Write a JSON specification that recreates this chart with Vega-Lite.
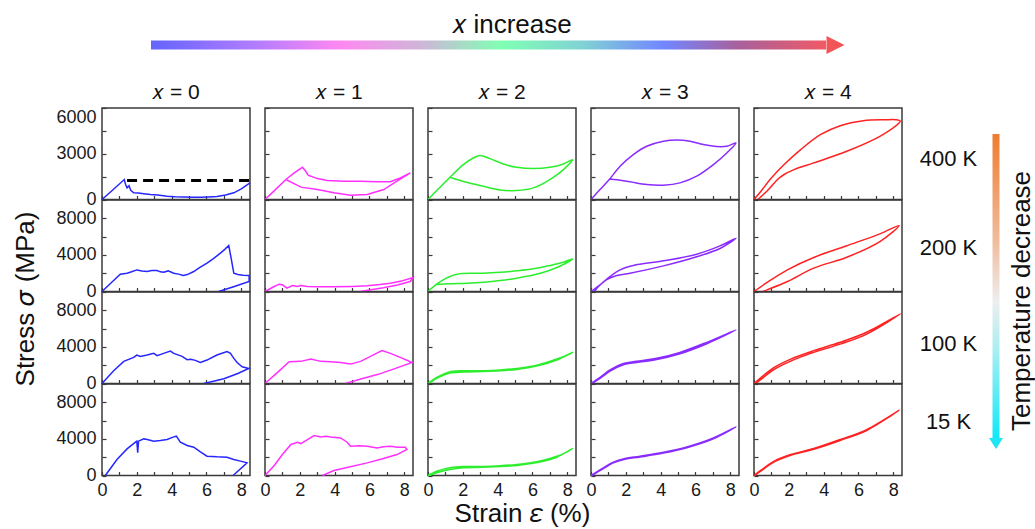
{
"$schema":"https://vega.github.io/schema/vega-lite/v6.json",
"padding":{"left":11,"top":12,"right":0,"bottom":0},
"background":"white",
"config":{
 "font":"Liberation Sans",
 "view":{"stroke":"#3a3a3a","strokeWidth":1.5},
 "axis":{"domain":false,"grid":false,"tickSize":-4,"tickColor":"#3a3a3a","tickWidth":1.2,"labelFont":"Liberation Sans","labelFontSize":18,"labelColor":"#1a1a1a","labelPadding":10,"labelFlush":false,"titleFont":"Liberation Sans","titleFontSize":26,"titleFontWeight":"normal","titleColor":"#111"},
 "title":{"font":"Liberation Sans","fontWeight":"normal","color":"#111"}
},
"datasets":{
"p00":[{"e":0,"p":0},{"e":0.6,"p":610},{"e":1.28,"p":1310},{"e":1.35,"p":1000},{"e":1.44,"p":760},{"e":1.55,"p":900},{"e":1.65,"p":600},{"e":1.82,"p":440},{"e":2.1,"p":420},{"e":2.4,"p":380},{"e":2.78,"p":330},{"e":3.2,"p":290},{"e":3.74,"p":220},{"e":4.2,"p":180},{"e":4.69,"p":160},{"e":5.2,"p":150},{"e":5.65,"p":150},{"e":6.1,"p":170},{"e":6.6,"p":200},{"e":7.1,"p":300},{"e":7.57,"p":440},{"e":8.0,"p":700},{"e":8.5,"p":1090}],
"p01":[{"e":0,"p":0},{"e":0.5,"p":900},{"e":1.05,"p":1890},{"e":1.44,"p":2000},{"e":1.7,"p":2150},{"e":2.0,"p":2360},{"e":2.3,"p":2250},{"e":2.59,"p":2180},{"e":2.85,"p":2300},{"e":3.16,"p":2290},{"e":3.35,"p":2150},{"e":3.54,"p":2110},{"e":3.8,"p":2250},{"e":4.12,"p":2000},{"e":4.4,"p":1900},{"e":4.66,"p":1750},{"e":4.9,"p":1850},{"e":5.27,"p":2180},{"e":5.6,"p":2600},{"e":6.03,"p":3090},{"e":6.4,"p":3600},{"e":6.8,"p":4190},{"e":7.05,"p":4600},{"e":7.28,"p":5020},{"e":7.4,"p":3800},{"e":7.57,"p":2000},{"e":7.8,"p":1850},{"e":8.1,"p":1780},{"e":8.45,"p":1750},{"e":8.45,"p":1100},{"e":7.6,"p":550},{"e":6.7,"p":0}],
"p02":[{"e":0,"p":0},{"e":0.67,"p":1390},{"e":1.25,"p":2420},{"e":1.82,"p":2850},{"e":2.0,"p":3110},{"e":2.2,"p":2960},{"e":2.59,"p":3110},{"e":2.97,"p":3290},{"e":3.16,"p":3040},{"e":3.54,"p":3290},{"e":3.93,"p":3550},{"e":4.12,"p":3290},{"e":4.6,"p":2960},{"e":4.89,"p":2600},{"e":5.1,"p":2650},{"e":5.36,"p":2530},{"e":5.65,"p":2300},{"e":6.03,"p":2560},{"e":6.6,"p":3110},{"e":7.18,"p":3480},{"e":7.38,"p":3290},{"e":7.55,"p":2800},{"e":7.76,"p":2300},{"e":8.05,"p":1830},{"e":8.43,"p":1650},{"e":7.8,"p":1100},{"e":7.0,"p":520},{"e":6.4,"p":250},{"e":5.84,"p":0}],
"p03":[{"e":0.19,"p":0},{"e":0.86,"p":1750},{"e":1.44,"p":2910},{"e":1.92,"p":3640},{"e":2.0,"p":3750},{"e":2.05,"p":2480},{"e":2.1,"p":3750},{"e":2.4,"p":4000},{"e":2.6,"p":3930},{"e":2.97,"p":3750},{"e":3.35,"p":3820},{"e":3.74,"p":3930},{"e":4.12,"p":4220},{"e":4.27,"p":4300},{"e":4.5,"p":3640},{"e":4.89,"p":3280},{"e":5.27,"p":3090},{"e":5.65,"p":2580},{"e":6.03,"p":2110},{"e":6.6,"p":2040},{"e":7.18,"p":2000},{"e":7.57,"p":1750},{"e":7.95,"p":1570},{"e":8.33,"p":1380},{"e":7.53,"p":0}],
"p10":[{"e":0,"p":0},{"e":0.6,"p":650},{"e":1.2,"p":1310},{"e":1.68,"p":1740},{"e":2.15,"p":2110},{"e":2.34,"p":1850},{"e":2.48,"p":1590},{"e":2.63,"p":1530},{"e":3.0,"p":1370},{"e":3.58,"p":1240},{"e":4.53,"p":1200},{"e":5.49,"p":1200},{"e":6.44,"p":1160},{"e":7.2,"p":1160},{"e":7.77,"p":1420},{"e":8.34,"p":1740},{"e":7.58,"p":1200},{"e":6.82,"p":650},{"e":5.87,"p":330},{"e":4.91,"p":280},{"e":3.96,"p":440},{"e":3.01,"p":650},{"e":2.06,"p":810},{"e":1.2,"p":1310}],
"p11":[{"e":0,"p":0},{"e":0.53,"p":546},{"e":0.82,"p":800},{"e":1.0,"p":730},{"e":1.26,"p":364},{"e":1.58,"p":655},{"e":1.87,"p":546},{"e":2.06,"p":655},{"e":2.44,"p":546},{"e":3.0,"p":530},{"e":3.96,"p":510},{"e":5.0,"p":560},{"e":5.87,"p":620},{"e":6.6,"p":760},{"e":7.2,"p":910},{"e":7.9,"p":1180},{"e":8.5,"p":1530},{"e":8.34,"p":1090},{"e":7.6,"p":720},{"e":6.8,"p":420},{"e":6.0,"p":170},{"e":5.49,"p":0}],
"p12":[{"e":0,"p":0},{"e":0.72,"p":1210},{"e":1.39,"p":2380},{"e":2.06,"p":2420},{"e":2.63,"p":2670},{"e":3.2,"p":2420},{"e":3.77,"p":2380},{"e":4.34,"p":2300},{"e":4.91,"p":2120},{"e":5.49,"p":2420},{"e":6.06,"p":2960},{"e":6.72,"p":3590},{"e":7.2,"p":3290},{"e":7.77,"p":2850},{"e":8.44,"p":2300},{"e":7.5,"p":1650},{"e":6.5,"p":1000},{"e":5.5,"p":500},{"e":4.63,"p":0}],
"p13":[{"e":0,"p":0},{"e":0.53,"p":1090},{"e":1.0,"p":2290},{"e":1.49,"p":3390},{"e":1.87,"p":3640},{"e":2.06,"p":3490},{"e":2.44,"p":3930},{"e":2.82,"p":4370},{"e":3.2,"p":4220},{"e":3.5,"p":4300},{"e":3.77,"p":4220},{"e":4.34,"p":4110},{"e":4.72,"p":3640},{"e":4.91,"p":3200},{"e":5.4,"p":3250},{"e":5.87,"p":3200},{"e":6.44,"p":3020},{"e":6.8,"p":3150},{"e":7.2,"p":3200},{"e":7.6,"p":3100},{"e":8.06,"p":3090},{"e":8.15,"p":2840},{"e":7.58,"p":2290},{"e":6.7,"p":1800},{"e":5.87,"p":1380},{"e":4.9,"p":950},{"e":3.96,"p":546},{"e":3.3,"p":0}],
"p20":[{"e":0,"p":0},{"e":0.6,"p":700},{"e":1.26,"p":1460},{"e":2.03,"p":2290},{"e":2.6,"p":2720},{"e":2.99,"p":2880},{"e":3.56,"p":2680},{"e":4.33,"p":2330},{"e":5.1,"p":2110},{"e":6.05,"p":2030},{"e":7.0,"p":2110},{"e":7.78,"p":2330},{"e":8.31,"p":2620},{"e":7.78,"p":1960},{"e":7.0,"p":1310},{"e":6.05,"p":760},{"e":5.1,"p":590},{"e":4.14,"p":630},{"e":3.18,"p":870},{"e":2.22,"p":1130},{"e":1.26,"p":1460}],
"p21":[{"e":0,"p":0},{"e":0.5,"p":800},{"e":1.0,"p":1400},{"e":1.26,"p":1640},{"e":1.6,"p":1850},{"e":1.93,"p":1970},{"e":3.18,"p":2000},{"e":4.14,"p":2100},{"e":5.1,"p":2260},{"e":6.05,"p":2480},{"e":7.0,"p":2840},{"e":7.78,"p":3200},{"e":8.31,"p":3570},{"e":7.78,"p":2950},{"e":7.0,"p":2330},{"e":6.05,"p":1800},{"e":5.1,"p":1460},{"e":4.14,"p":1200},{"e":3.18,"p":1020},{"e":2.22,"p":910},{"e":1.26,"p":840},{"e":0.5,"p":760}],
"p22":[{"e":0,"p":0},{"e":0.5,"p":660},{"e":0.88,"p":1020},{"e":1.26,"p":1280},{"e":1.6,"p":1370},{"e":2.03,"p":1390},{"e":3.18,"p":1400},{"e":4.14,"p":1480},{"e":5.1,"p":1650},{"e":5.7,"p":1800},{"e":6.25,"p":2010},{"e":6.8,"p":2300},{"e":7.4,"p":2670},{"e":7.9,"p":3030},{"e":8.31,"p":3400},{"e":7.4,"p":2560},{"e":6.25,"p":1900},{"e":5.1,"p":1540},{"e":4.14,"p":1380},{"e":3.18,"p":1300},{"e":2.03,"p":1250},{"e":1.26,"p":1150},{"e":0.88,"p":900},{"e":0.5,"p":560},{"e":0.05,"p":0}],
"p23":[{"e":0,"p":0},{"e":0.5,"p":470},{"e":1.0,"p":740},{"e":1.26,"p":840},{"e":1.6,"p":930},{"e":2.03,"p":980},{"e":3.18,"p":980},{"e":4.14,"p":1060},{"e":5.1,"p":1200},{"e":5.9,"p":1400},{"e":6.63,"p":1670},{"e":7.4,"p":2100},{"e":7.9,"p":2500},{"e":8.31,"p":2950},{"e":7.4,"p":2000},{"e":6.63,"p":1560},{"e":5.1,"p":1100},{"e":3.18,"p":900},{"e":2.03,"p":850},{"e":1.26,"p":660},{"e":0.5,"p":300},{"e":0.1,"p":0}],
"p30":[{"e":0,"p":0},{"e":0.52,"p":650},{"e":1.05,"p":1310},{"e":1.67,"p":2180},{"e":2.43,"p":2940},{"e":3.2,"p":3490},{"e":4.16,"p":3820},{"e":4.92,"p":3900},{"e":5.69,"p":3820},{"e":6.46,"p":3600},{"e":7.22,"p":3470},{"e":7.8,"p":3490},{"e":8.33,"p":3710},{"e":7.8,"p":3050},{"e":7.03,"p":2290},{"e":6.07,"p":1530},{"e":5.11,"p":1090},{"e":4.16,"p":940},{"e":3.2,"p":980},{"e":2.24,"p":1160},{"e":1.5,"p":1300},{"e":1.09,"p":1350}],
"p31":[{"e":0,"p":0},{"e":0.52,"p":730},{"e":1.09,"p":1640},{"e":1.67,"p":2370},{"e":2.43,"p":2840},{"e":4.16,"p":3350},{"e":6.07,"p":4080},{"e":7.41,"p":4990},{"e":8.33,"p":5820},{"e":7.41,"p":4700},{"e":6.07,"p":3800},{"e":4.16,"p":2800},{"e":2.24,"p":2000},{"e":1.48,"p":1750},{"e":0.9,"p":1300},{"e":0.4,"p":500},{"e":0.2,"p":0}],
"p32":[{"e":0,"p":0},{"e":0.52,"p":660},{"e":1.09,"p":1500},{"e":1.86,"p":2200},{"e":2.62,"p":2420},{"e":3.77,"p":2750},{"e":5.11,"p":3400},{"e":6.65,"p":4500},{"e":8.33,"p":5860},{"e":6.65,"p":4350},{"e":5.11,"p":3250},{"e":3.77,"p":2620},{"e":2.62,"p":2300},{"e":1.86,"p":2050},{"e":1.09,"p":1350},{"e":0.52,"p":550},{"e":0.05,"p":0}],
"p33":[{"e":0,"p":0},{"e":0.71,"p":840},{"e":1.28,"p":1460},{"e":1.95,"p":1860},{"e":2.82,"p":2110},{"e":4.16,"p":2550},{"e":5.5,"p":3130},{"e":7.03,"p":4110},{"e":8.33,"p":5310},{"e":7.03,"p":4000},{"e":5.5,"p":3030},{"e":4.16,"p":2450},{"e":2.82,"p":2020},{"e":1.95,"p":1770},{"e":1.28,"p":1380},{"e":0.71,"p":760},{"e":0.05,"p":0}],
"p40":[{"e":0,"p":0},{"e":0.4,"p":545},{"e":0.97,"p":1370},{"e":1.73,"p":2290},{"e":2.68,"p":3270},{"e":3.81,"p":4250},{"e":4.95,"p":4840},{"e":6.28,"p":5170},{"e":7.5,"p":5230},{"e":8.18,"p":5230},{"e":8.4,"p":5150},{"e":8.33,"p":5010},{"e":7.23,"p":4140},{"e":5.33,"p":3160},{"e":3.43,"p":2400},{"e":2.3,"p":1960},{"e":1.73,"p":1640},{"e":1.35,"p":1310},{"e":0.78,"p":590},{"e":0.21,"p":0}],
"p41":[{"e":0,"p":0},{"e":0.78,"p":1020},{"e":1.92,"p":2370},{"e":3.43,"p":3720},{"e":5.33,"p":5000},{"e":7.23,"p":6300},{"e":8.33,"p":7210},{"e":7.23,"p":5460},{"e":5.33,"p":3750},{"e":3.43,"p":2550},{"e":1.92,"p":1090},{"e":0.78,"p":200},{"e":0.5,"p":0}],
"p42":[{"e":0,"p":0},{"e":0.4,"p":660},{"e":1.16,"p":1760},{"e":2.11,"p":2670},{"e":3.43,"p":3590},{"e":4.95,"p":4500},{"e":6.47,"p":5600},{"e":8.41,"p":7610},{"e":6.47,"p":5400},{"e":4.95,"p":4300},{"e":3.43,"p":3400},{"e":2.11,"p":2450},{"e":1.16,"p":1550},{"e":0.4,"p":450},{"e":0.1,"p":0}],
"p43":[{"e":0,"p":0},{"e":0.4,"p":580},{"e":1.16,"p":1570},{"e":2.11,"p":2290},{"e":3.43,"p":2950},{"e":4.95,"p":3930},{"e":6.47,"p":5020},{"e":8.33,"p":7130},{"e":6.47,"p":4920},{"e":4.95,"p":3830},{"e":3.43,"p":2870},{"e":2.11,"p":2200},{"e":1.16,"p":1480},{"e":0.4,"p":500},{"e":0.05,"p":0}]
},
"spacing":3,
"resolve":{"scale":{"x":"independent","y":"independent"}},
"hconcat":[
{"vconcat":[
 {"width":850,"height":18,"view":{"stroke":null},
  "title":{"text":"𝑥 increase","fontSize":26,"baseline":"alphabetic","offset":-23,"dx":-15,"anchor":"middle"},
  "layer":[
   {"data":{"values":[{"a":49,"b":724,"lo":-4.5,"hi":4.5}]},
    "mark":{"type":"rect","fill":{"gradient":"linear","x1":0,"y1":0,"x2":1,"y2":0,"stops":[{"offset":0,"color":"#6464ff"},{"offset":0.15,"color":"#b07cff"},{"offset":0.28,"color":"#ff88f2"},{"offset":0.4,"color":"#cfb6d8"},{"offset":0.52,"color":"#80ffb4"},{"offset":0.64,"color":"#80d2d4"},{"offset":0.76,"color":"#7286ff"},{"offset":0.87,"color":"#a8609c"},{"offset":1,"color":"#f05a66"}]}},
    "encoding":{"x":{"field":"a","type":"quantitative","scale":{"domain":[0,850],"nice":false,"zero":false},"axis":null},"x2":{"field":"b"},"y":{"field":"lo","type":"quantitative","scale":{"domain":[-9,9],"nice":false},"axis":null},"y2":{"field":"hi"}}},
   {"data":{"values":[{"a":733.5,"m":0}]},
    "mark":{"type":"point","shape":"M -1 -1 L 1 0 L -1 1 Z","size":324,"filled":true,"color":"#f25555","opacity":1,"strokeWidth":0},
    "encoding":{"x":{"field":"a","type":"quantitative"},"y":{"field":"m","type":"quantitative"}}}
  ]},
 {"concat":[
   {"width":148,"height":91.5,"title":{"text":"𝑥 = 0","fontSize":21,"baseline":"alphabetic","offset":-13,"anchor":"middle"},
    "encoding":{"x":{"field":"e","type":"quantitative","scale":{"domain":[0,8.5],"nice":false,"zero":false},"axis":{"title":null,"values":[0,1,2,3,4,5,6,7,8],"labels":false}},
      "y":{"field":"p","type":"quantitative","scale":{"domain":[0,6000],"nice":false},"axis":{"title":null,"values":[0,1500,3000,4500,6000],"format":"d","labelExpr":"datum.value % 3000 == 0 ? datum.label : ''","labelBaseline":{"condition":{"test":"datum.value == 6000","value":"top"},"value":"middle"}}},
      "order":{"value":null}},
    "layer":[
     {"data":{"name":"p00"},"mark":{"type":"line","color":"#2626ff","strokeWidth":1.5}},
     {"data":{"values":[{"e":1.44,"p":1240},{"e":8.5,"p":1240}]},"mark":{"type":"line","color":"#000000","strokeWidth":3,"strokeDash":[10,6]}}
    ]},
   {"width":148,"height":91.5,"title":{"text":"𝑥 = 1","fontSize":21,"baseline":"alphabetic","offset":-13,"anchor":"middle"},
    "data":{"name":"p10"},"mark":{"type":"line","color":"#ff30ff","strokeWidth":1.5},
    "encoding":{"x":{"field":"e","type":"quantitative","scale":{"domain":[0,8.5],"nice":false,"zero":false},"axis":{"title":null,"values":[0,1,2,3,4,5,6,7,8],"labels":false}},
      "y":{"field":"p","type":"quantitative","scale":{"domain":[0,6000],"nice":false},"axis":{"title":null,"values":[0,1500,3000,4500,6000],"labels":false}},
      "order":{"value":null}}},
   {"width":148,"height":91.5,"title":{"text":"𝑥 = 2","fontSize":21,"baseline":"alphabetic","offset":-13,"anchor":"middle"},
    "data":{"name":"p20"},"mark":{"type":"line","color":"#2cee2c","strokeWidth":1.5,"interpolate":"catmull-rom"},
    "encoding":{"x":{"field":"e","type":"quantitative","scale":{"domain":[0,8.5],"nice":false,"zero":false},"axis":{"title":null,"values":[0,1,2,3,4,5,6,7,8],"labels":false}},
      "y":{"field":"p","type":"quantitative","scale":{"domain":[0,6000],"nice":false},"axis":{"title":null,"values":[0,1500,3000,4500,6000],"labels":false}},
      "order":{"value":null}}},
   {"width":148,"height":91.5,"title":{"text":"𝑥 = 3","fontSize":21,"baseline":"alphabetic","offset":-13,"anchor":"middle"},
    "data":{"name":"p30"},"mark":{"type":"line","color":"#8a2cff","strokeWidth":1.5,"interpolate":"catmull-rom"},
    "encoding":{"x":{"field":"e","type":"quantitative","scale":{"domain":[0,8.5],"nice":false,"zero":false},"axis":{"title":null,"values":[0,1,2,3,4,5,6,7,8],"labels":false}},
      "y":{"field":"p","type":"quantitative","scale":{"domain":[0,6000],"nice":false},"axis":{"title":null,"values":[0,1500,3000,4500,6000],"labels":false}},
      "order":{"value":null}}},
   {"width":148,"height":91.5,"title":{"text":"𝑥 = 4","fontSize":21,"baseline":"alphabetic","offset":-13,"anchor":"middle"},
    "data":{"name":"p40"},
    "encoding":{"x":{"field":"e","type":"quantitative","scale":{"domain":[0,8.5],"nice":false,"zero":false},"axis":{"title":null,"values":[0,1,2,3,4,5,6,7,8],"labels":false}},"order":{"value":null}},
    "layer":[
     {"mark":{"type":"line","color":"#ff2222","strokeWidth":1.5,"interpolate":"catmull-rom"},
      "encoding":{"y":{"field":"p","type":"quantitative","scale":{"domain":[0,6000],"nice":false},"axis":{"title":null,"values":[0,1500,3000,4500,6000],"labels":false}}}},
     {"mark":{"type":"line","opacity":0},
      "encoding":{"y":{"field":"p","type":"quantitative","scale":{"domain":[0,6000],"nice":false},"axis":{"orient":"right","title":"400 K","titleAngle":0,"titleX":46,"titleY":50,"titleAlign":"center","titleBaseline":"middle","titleFontSize":22,"ticks":false,"labels":false}}}}
    ],"resolve":{"axis":{"y":"independent"}}},

   {"width":148,"height":91.5,"data":{"name":"p01"},"mark":{"type":"line","color":"#2626ff","strokeWidth":1.5},
    "encoding":{"x":{"field":"e","type":"quantitative","scale":{"domain":[0,8.5],"nice":false,"zero":false},"axis":{"title":null,"values":[0,1,2,3,4,5,6,7,8],"labels":false}},
      "y":{"field":"p","type":"quantitative","scale":{"domain":[0,10000],"nice":false},"axis":{"title":"Stress 𝜎 (MPa)","titleX":-69,"titleY":98.5,"titleBaseline":"alphabetic","titleAngle":-90,"titleAlign":"center","values":[0,2000,4000,6000,8000],"format":"d","labelExpr":"datum.value % 4000 == 0 ? datum.label : ''"}},
      "order":{"value":null}}},
   {"width":148,"height":91.5,"data":{"name":"p11"},"mark":{"type":"line","color":"#ff30ff","strokeWidth":1.5},
    "encoding":{"x":{"field":"e","type":"quantitative","scale":{"domain":[0,8.5],"nice":false,"zero":false},"axis":{"title":null,"values":[0,1,2,3,4,5,6,7,8],"labels":false}},
      "y":{"field":"p","type":"quantitative","scale":{"domain":[0,10000],"nice":false},"axis":{"title":null,"values":[0,2000,4000,6000,8000],"labels":false}},
      "order":{"value":null}}},
   {"width":148,"height":91.5,"data":{"name":"p21"},"mark":{"type":"line","color":"#2cee2c","strokeWidth":1.5,"interpolate":"catmull-rom"},
    "encoding":{"x":{"field":"e","type":"quantitative","scale":{"domain":[0,8.5],"nice":false,"zero":false},"axis":{"title":null,"values":[0,1,2,3,4,5,6,7,8],"labels":false}},
      "y":{"field":"p","type":"quantitative","scale":{"domain":[0,10000],"nice":false},"axis":{"title":null,"values":[0,2000,4000,6000,8000],"labels":false}},
      "order":{"value":null}}},
   {"width":148,"height":91.5,"data":{"name":"p31"},"mark":{"type":"line","color":"#8a2cff","strokeWidth":1.5,"interpolate":"catmull-rom"},
    "encoding":{"x":{"field":"e","type":"quantitative","scale":{"domain":[0,8.5],"nice":false,"zero":false},"axis":{"title":null,"values":[0,1,2,3,4,5,6,7,8],"labels":false}},
      "y":{"field":"p","type":"quantitative","scale":{"domain":[0,10000],"nice":false},"axis":{"title":null,"values":[0,2000,4000,6000,8000],"labels":false}},
      "order":{"value":null}}},
   {"width":148,"height":91.5,"data":{"name":"p41"},
    "encoding":{"x":{"field":"e","type":"quantitative","scale":{"domain":[0,8.5],"nice":false,"zero":false},"axis":{"title":null,"values":[0,1,2,3,4,5,6,7,8],"labels":false}},"order":{"value":null}},
    "layer":[
     {"mark":{"type":"line","color":"#ff2222","strokeWidth":1.5,"interpolate":"catmull-rom"},
      "encoding":{"y":{"field":"p","type":"quantitative","scale":{"domain":[0,10000],"nice":false},"axis":{"title":null,"values":[0,2000,4000,6000,8000],"labels":false}}}},
     {"mark":{"type":"line","opacity":0},
      "encoding":{"y":{"field":"p","type":"quantitative","scale":{"domain":[0,10000],"nice":false},"axis":{"orient":"right","title":"200 K","titleAngle":0,"titleX":46,"titleY":47.5,"titleAlign":"center","titleBaseline":"middle","titleFontSize":22,"ticks":false,"labels":false}}}}
    ],"resolve":{"axis":{"y":"independent"}}},

   {"width":148,"height":91.5,"data":{"name":"p02"},"mark":{"type":"line","color":"#2626ff","strokeWidth":1.5},
    "encoding":{"x":{"field":"e","type":"quantitative","scale":{"domain":[0,8.5],"nice":false,"zero":false},"axis":{"title":null,"values":[0,1,2,3,4,5,6,7,8],"labels":false}},
      "y":{"field":"p","type":"quantitative","scale":{"domain":[0,10000],"nice":false},"axis":{"title":null,"values":[0,2000,4000,6000,8000],"format":"d","labelExpr":"datum.value % 4000 == 0 ? datum.label : ''"}},
      "order":{"value":null}}},
   {"width":148,"height":91.5,"data":{"name":"p12"},"mark":{"type":"line","color":"#ff30ff","strokeWidth":1.5},
    "encoding":{"x":{"field":"e","type":"quantitative","scale":{"domain":[0,8.5],"nice":false,"zero":false},"axis":{"title":null,"values":[0,1,2,3,4,5,6,7,8],"labels":false}},
      "y":{"field":"p","type":"quantitative","scale":{"domain":[0,10000],"nice":false},"axis":{"title":null,"values":[0,2000,4000,6000,8000],"labels":false}},
      "order":{"value":null}}},
   {"width":148,"height":91.5,"data":{"name":"p22"},"mark":{"type":"line","color":"#2cee2c","strokeWidth":1.5,"interpolate":"catmull-rom"},
    "encoding":{"x":{"field":"e","type":"quantitative","scale":{"domain":[0,8.5],"nice":false,"zero":false},"axis":{"title":null,"values":[0,1,2,3,4,5,6,7,8],"labels":false}},
      "y":{"field":"p","type":"quantitative","scale":{"domain":[0,10000],"nice":false},"axis":{"title":null,"values":[0,2000,4000,6000,8000],"labels":false}},
      "order":{"value":null}}},
   {"width":148,"height":91.5,"data":{"name":"p32"},"mark":{"type":"line","color":"#8a2cff","strokeWidth":1.5,"interpolate":"catmull-rom"},
    "encoding":{"x":{"field":"e","type":"quantitative","scale":{"domain":[0,8.5],"nice":false,"zero":false},"axis":{"title":null,"values":[0,1,2,3,4,5,6,7,8],"labels":false}},
      "y":{"field":"p","type":"quantitative","scale":{"domain":[0,10000],"nice":false},"axis":{"title":null,"values":[0,2000,4000,6000,8000],"labels":false}},
      "order":{"value":null}}},
   {"width":148,"height":91.5,"data":{"name":"p42"},
    "encoding":{"x":{"field":"e","type":"quantitative","scale":{"domain":[0,8.5],"nice":false,"zero":false},"axis":{"title":null,"values":[0,1,2,3,4,5,6,7,8],"labels":false}},"order":{"value":null}},
    "layer":[
     {"mark":{"type":"line","color":"#ff2222","strokeWidth":1.5,"interpolate":"catmull-rom"},
      "encoding":{"y":{"field":"p","type":"quantitative","scale":{"domain":[0,10000],"nice":false},"axis":{"title":null,"values":[0,2000,4000,6000,8000],"labels":false}}}},
     {"mark":{"type":"line","opacity":0},
      "encoding":{"y":{"field":"p","type":"quantitative","scale":{"domain":[0,10000],"nice":false},"axis":{"orient":"right","title":"100 K","titleAngle":0,"titleX":46,"titleY":51,"titleAlign":"center","titleBaseline":"middle","titleFontSize":22,"ticks":false,"labels":false}}}}
    ],"resolve":{"axis":{"y":"independent"}}},

   {"width":148,"height":91.5,"data":{"name":"p03"},"mark":{"type":"line","color":"#2626ff","strokeWidth":1.5},
    "encoding":{"x":{"field":"e","type":"quantitative","scale":{"domain":[0,8.5],"nice":false,"zero":false},"axis":{"title":null,"values":[0,1,2,3,4,5,6,7,8],"labelExpr":"datum.value % 2 == 0 ? datum.label : ''"}},
      "y":{"field":"p","type":"quantitative","scale":{"domain":[0,10000],"nice":false},"axis":{"title":null,"values":[0,2000,4000,6000,8000],"format":"d","labelExpr":"datum.value % 4000 == 0 ? datum.label : ''"}},
      "order":{"value":null}}},
   {"width":148,"height":91.5,"data":{"name":"p13"},"mark":{"type":"line","color":"#ff30ff","strokeWidth":1.5},
    "encoding":{"x":{"field":"e","type":"quantitative","scale":{"domain":[0,8.5],"nice":false,"zero":false},"axis":{"title":null,"values":[0,1,2,3,4,5,6,7,8],"labelExpr":"datum.value % 2 == 0 ? datum.label : ''"}},
      "y":{"field":"p","type":"quantitative","scale":{"domain":[0,10000],"nice":false},"axis":{"title":null,"values":[0,2000,4000,6000,8000],"labels":false}},
      "order":{"value":null}}},
   {"width":148,"height":91.5,"data":{"name":"p23"},"mark":{"type":"line","color":"#2cee2c","strokeWidth":1.5,"interpolate":"catmull-rom"},
    "encoding":{"x":{"field":"e","type":"quantitative","scale":{"domain":[0,8.5],"nice":false,"zero":false},"axis":{"title":"Strain 𝜀 (%)","titleX":94,"titleY":46,"titleBaseline":"alphabetic","titleAlign":"center","values":[0,1,2,3,4,5,6,7,8],"labelExpr":"datum.value % 2 == 0 ? datum.label : ''"}},
      "y":{"field":"p","type":"quantitative","scale":{"domain":[0,10000],"nice":false},"axis":{"title":null,"values":[0,2000,4000,6000,8000],"labels":false}},
      "order":{"value":null}}},
   {"width":148,"height":91.5,"data":{"name":"p33"},"mark":{"type":"line","color":"#8a2cff","strokeWidth":1.5,"interpolate":"catmull-rom"},
    "encoding":{"x":{"field":"e","type":"quantitative","scale":{"domain":[0,8.5],"nice":false,"zero":false},"axis":{"title":null,"values":[0,1,2,3,4,5,6,7,8],"labelExpr":"datum.value % 2 == 0 ? datum.label : ''"}},
      "y":{"field":"p","type":"quantitative","scale":{"domain":[0,10000],"nice":false},"axis":{"title":null,"values":[0,2000,4000,6000,8000],"labels":false}},
      "order":{"value":null}}},
   {"width":148,"height":91.5,"data":{"name":"p43"},
    "encoding":{"x":{"field":"e","type":"quantitative","scale":{"domain":[0,8.5],"nice":false,"zero":false},"axis":{"title":null,"values":[0,1,2,3,4,5,6,7,8],"labelExpr":"datum.value % 2 == 0 ? datum.label : ''"}},"order":{"value":null}},
    "layer":[
     {"mark":{"type":"line","color":"#ff2222","strokeWidth":1.5,"interpolate":"catmull-rom"},
      "encoding":{"y":{"field":"p","type":"quantitative","scale":{"domain":[0,10000],"nice":false},"axis":{"title":null,"values":[0,2000,4000,6000,8000],"labels":false}}}},
     {"mark":{"type":"line","opacity":0},
      "encoding":{"y":{"field":"p","type":"quantitative","scale":{"domain":[0,10000],"nice":false},"axis":{"orient":"right","title":"15 K","titleAngle":0,"titleX":46,"titleY":37.5,"titleAlign":"center","titleBaseline":"middle","titleFontSize":22,"ticks":false,"labels":false}}}}
    ],"resolve":{"axis":{"y":"independent"}}}
 ],"columns":5,"spacing":{"row":0,"column":15},"bounds":"flush","resolve":{"scale":{"x":"independent","y":"independent"}}}
],"spacing":27,"resolve":{"scale":{"x":"independent","y":"independent"}}},
{"width":40,"height":450,"view":{"stroke":null},
 "layer":[
  {"data":{"values":[{"a":11.5,"b":18.5,"t":98,"u":402}]},
   "mark":{"type":"rect","fill":{"gradient":"linear","x1":0,"y1":0,"x2":0,"y2":1,"stops":[{"offset":0,"color":"#ee7c30"},{"offset":0.35,"color":"#f0bc9c"},{"offset":0.55,"color":"#eeeeee"},{"offset":0.72,"color":"#a4eef2"},{"offset":1,"color":"#12e8f8"}]}},
   "encoding":{"x":{"field":"a","type":"quantitative","scale":{"domain":[0,40],"nice":false,"zero":false},"axis":null},"x2":{"field":"b"},"y":{"field":"t","type":"quantitative","scale":{"domain":[0,450],"reverse":true,"nice":false},"axis":null},"y2":{"field":"u"}}},
  {"data":{"values":[{"a":15,"t":407.5}]},
   "mark":{"type":"point","shape":"M -1 -0.8 L 1 -0.8 L 0 0.8 Z","size":196,"filled":true,"color":"#1ee6f5","opacity":1,"strokeWidth":0},
   "encoding":{"x":{"field":"a","type":"quantitative"},"y":{"field":"t","type":"quantitative"}}},
  {"data":{"values":[{"a":41,"t":265,"label":"Temperature decrease"}]},
   "mark":{"type":"text","angle":270,"fontSize":26,"font":"Liberation Sans","color":"#111","align":"center","baseline":"middle"},
   "encoding":{"x":{"field":"a","type":"quantitative"},"y":{"field":"t","type":"quantitative"},"text":{"field":"label"}}}
 ]}
]
}
